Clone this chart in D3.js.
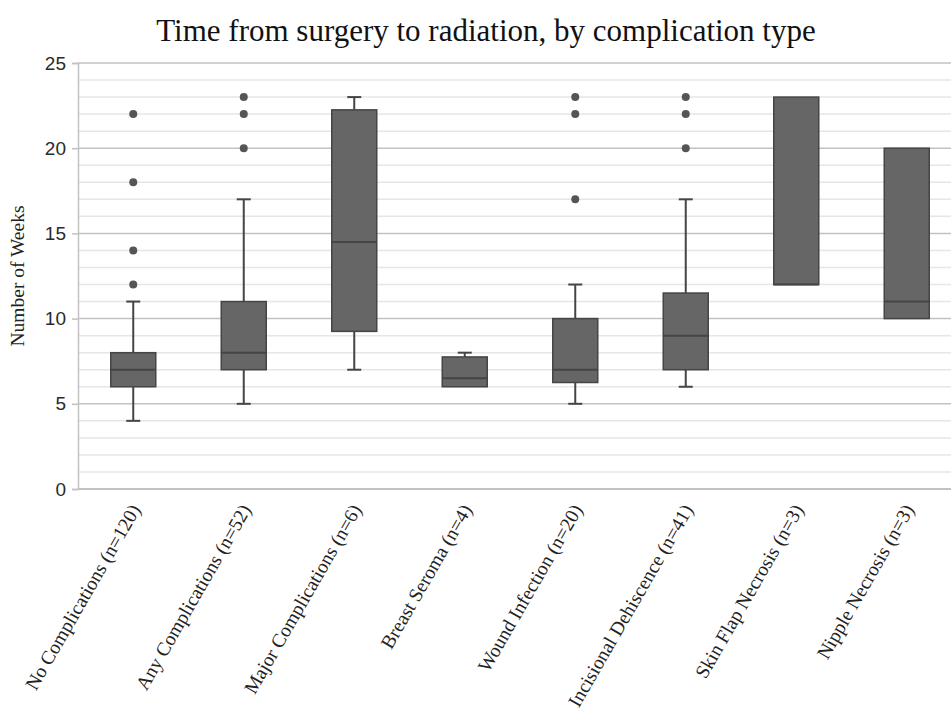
<!DOCTYPE html>
<html>
<head>
<meta charset="utf-8">
<script src="https://cdn.jsdelivr.net/npm/d3@7"></script>
<style>
  body { margin: 0; background: #fff; }
  svg { display: block; }
</style>
</head>
<body>
<svg id="chart" width="951" height="713"></svg>
<script>
// one entry per complication group
var categories = ['No Complications (n=120)', 'Any Complications (n=52)', 'Major Complications (n=6)',
                  'Breast Seroma (n=4)', 'Wound Infection (n=20)', 'Incisional Dehiscence (n=41)',
                  'Skin Flap Necrosis (n=3)', 'Nipple Necrosis (n=3)'];
var whiskerLow  = [4, 5, 7, 6, 5, 6, 12, 10];
var q1          = [6, 7, 9.25, 6, 6.25, 7, 12, 10];
var median      = [7, 8, 14.5, 6.5, 7, 9, 12, 11];
var q3          = [8, 11, 22.25, 7.75, 10, 11.5, 23, 20];
var whiskerHigh = [11, 17, 23, 8, 12, 17, 23, 20];
var outliers    = [[12, 14, 18, 22], [20, 22, 23], [], [], [17, 22, 23], [20, 22, 23], [], []];
var yTicks = [0, 5, 10, 15, 20, 25];

var svg = d3.select('#chart');
var plotLeft = 78, plotRight = 962, plotTop = 63, plotBottom = 489;

var x = d3.scaleBand().domain(categories).range([plotLeft, plotRight]);
var y = d3.scaleLinear().domain([0, 25]).range([plotBottom, plotTop]);
var boxW = 45, capW = 14;

// minor grid every week, major every five
svg.append('g').selectAll('line')
   .data(d3.range(1, 26).filter(function (v) { return v % 5 != 0; }))
   .enter().append('line')
   .attr('x1', plotLeft).attr('x2', 951)
   .attr('y1', function (v) { return y(v); })
   .attr('y2', function (v) { return y(v); })
   .attr('stroke', '#e6e6e6').attr('stroke-width', 1.5);

svg.append('g').selectAll('line')
   .data(yTicks.slice(1))
   .enter().append('line')
   .attr('x1', plotLeft).attr('x2', 951)
   .attr('y1', function (v) { return y(v); })
   .attr('y2', function (v) { return y(v); })
   .attr('stroke', '#c2c2c2').attr('stroke-width', 1.5);

// axes
var yAxis = svg.append('g')
   .attr('transform', 'translate(' + plotLeft + ',0)')
   .call(d3.axisLeft(y).tickValues(yTicks).tickSize(6).tickPadding(6));
yAxis.select('.domain').attr('stroke', '#c2c2c2').attr('stroke-width', 1.5);
yAxis.selectAll('.tick line').attr('stroke', '#c2c2c2').attr('stroke-width', 1.5);
yAxis.selectAll('.tick text')
     .attr('fill', '#2a2a2a')
     .style('font-family', '"Liberation Sans", Arial, sans-serif')
     .style('font-size', '19px');

svg.append('line')
   .attr('x1', plotLeft).attr('x2', 951)
   .attr('y1', y(0)).attr('y2', y(0))
   .attr('stroke', '#c2c2c2').attr('stroke-width', 2);

// category labels, rotated
svg.append('g').selectAll('text')
   .data(categories)
   .enter().append('text')
   .attr('transform', function (d) {
     return 'translate(' + (x(d) + x.bandwidth() / 2 + 2) + ',' + (plotBottom + 17) + ') rotate(-60)';
   })
   .attr('text-anchor', 'end')
   .attr('dy', '0.35em')
   .attr('fill', '#222')
   .style('font-family', '"Liberation Serif", "Times New Roman", serif')
   .style('font-size', '19.5px')
   .text(function (d) { return d; });

// boxes
var groups = svg.append('g').selectAll('g')
   .data(categories)
   .enter().append('g')
   .attr('transform', function (d) { return 'translate(' + (x(d) + x.bandwidth() / 2) + ',0)'; });

var stroke = '#454545', fill = '#666666';

groups.each(function (d, i) {
  var g = d3.select(this);
  if (whiskerHigh[i] > q3[i]) {
    g.append('line').attr('x1', 0).attr('x2', 0)
     .attr('y1', y(q3[i])).attr('y2', y(whiskerHigh[i]))
     .attr('stroke', stroke).attr('stroke-width', 2);
    g.append('line').attr('x1', -capW / 2).attr('x2', capW / 2)
     .attr('y1', y(whiskerHigh[i])).attr('y2', y(whiskerHigh[i]))
     .attr('stroke', stroke).attr('stroke-width', 2);
  }
  if (whiskerLow[i] < q1[i]) {
    g.append('line').attr('x1', 0).attr('x2', 0)
     .attr('y1', y(q1[i])).attr('y2', y(whiskerLow[i]))
     .attr('stroke', stroke).attr('stroke-width', 2);
    g.append('line').attr('x1', -capW / 2).attr('x2', capW / 2)
     .attr('y1', y(whiskerLow[i])).attr('y2', y(whiskerLow[i]))
     .attr('stroke', stroke).attr('stroke-width', 2);
  }
  g.append('rect')
   .attr('x', -boxW / 2).attr('width', boxW)
   .attr('y', y(q3[i])).attr('height', y(q1[i]) - y(q3[i]))
   .attr('fill', fill).attr('stroke', stroke).attr('stroke-width', 1.5);
  g.append('line').attr('x1', -boxW / 2).attr('x2', boxW / 2)
   .attr('y1', y(median[i])).attr('y2', y(median[i]))
   .attr('stroke', stroke).attr('stroke-width', 2);
  g.selectAll('circle')
   .data(outliers[i])
   .enter().append('circle')
   .attr('cx', 0).attr('cy', function (v) { return y(v); })
   .attr('r', 4).attr('fill', '#555');
});

// titles
svg.append('text')
   .attr('x', 486).attr('y', 41)
   .attr('text-anchor', 'middle')
   .attr('fill', '#111')
   .style('font-family', '"Liberation Serif", "Times New Roman", serif')
   .style('font-size', '31px')
   .text('Time from surgery to radiation, by complication type');

svg.append('text')
   .attr('transform', 'translate(24,' + ((plotTop + plotBottom) / 2) + ') rotate(-90)')
   .attr('text-anchor', 'middle')
   .attr('fill', '#222')
   .style('font-family', '"Liberation Serif", "Times New Roman", serif')
   .style('font-size', '19.5px')
   .text('Number of Weeks');
</script>
</body>
</html>
